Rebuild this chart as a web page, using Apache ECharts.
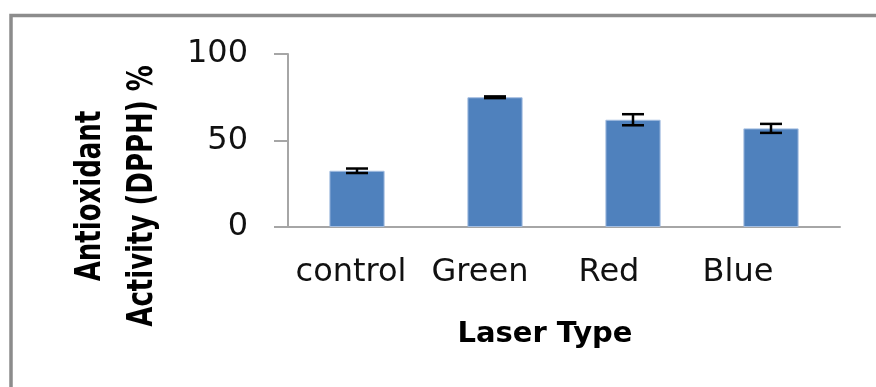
<!DOCTYPE html>
<html>
<head>
<meta charset="utf-8">
<script src="https://cdn.jsdelivr.net/npm/echarts@6/dist/echarts.min.js"></script>
<style>
	html, body { margin: 0; padding: 0; background: #fff; }
	#chart { width: 876px; height: 387px; }
</style>
</head>
<body>
<div id="chart"></div>
<script>
	// 数据
	var laserTypes = ['control', 'Green', 'Red', 'Blue'];
	var activity = [32.5, 75, 62, 57];
	var activityErr = [1.3, 0.5, 3.2, 2.6];
	var yTicks = [0, 50, 100];

	// label offsets to the left (the source labels sit a bit left of the bars)
	var labelShift = [6, 15, 24, 33];

	var errData = [];
	for (var i = 0; i < laserTypes.length; i++) {
		errData.push([i, activity[i] - activityErr[i], activity[i] + activityErr[i]]);
	}

	var rich = {};
	for (var j = 0; j < laserTypes.length; j++) {
		rich['c' + j] = {
			fontFamily: 'DejaVu Sans',
			fontSize: 32,
			color: '#111',
			padding: [0, labelShift[j] * 2, 0, 0]
		};
	}

	function renderErr(params, api) {
		var x = api.value(0);
		var lo = api.coord([x, api.value(1)]);
		var hi = api.coord([x, api.value(2)]);
		var half = 11;
		var st = { stroke: '#000', lineWidth: 2.5 };
		return {
			type: 'group',
			children: [
				{ type: 'line', shape: { x1: hi[0], y1: hi[1], x2: lo[0], y2: lo[1] }, style: st },
				{ type: 'line', shape: { x1: hi[0] - half, y1: hi[1], x2: hi[0] + half, y2: hi[1] }, style: st },
				{ type: 'line', shape: { x1: lo[0] - half, y1: lo[1], x2: lo[0] + half, y2: lo[1] }, style: st }
			]
		};
	}

	var option = {
		animation: false,
		backgroundColor: '#fff',
		grid: { left: 288, right: 36, top: 54, bottom: 160 },
		xAxis: {
			type: 'category',
			data: laserTypes,
			axisLine: { lineStyle: { color: '#a6a6a6', width: 2 } },
			axisTick: { length: 13, lineStyle: { color: '#a6a6a6', width: 2 } },
			axisLabel: {
				margin: 30,
				formatter: function(v, idx) {
					return '{c' + idx + '|' + v + '}';
				},
				rich: rich
			}
		},
		yAxis: {
			type: 'value',
			min: yTicks[0],
			max: yTicks[yTicks.length - 1],
			interval: yTicks[1] - yTicks[0],
			splitLine: { show: false },
			axisLine: { show: true, lineStyle: { color: '#a6a6a6', width: 2 } },
			axisTick: { show: true, length: 14, lineStyle: { color: '#a6a6a6', width: 2 } },
			axisLabel: {
				margin: 40,
				fontFamily: 'DejaVu Sans',
				fontSize: 32,
				color: '#111'
			}
		},
		graphic: [
			{
				type: 'rect',
				shape: { x: 11, y: 15.5, width: 900, height: 400 },
				style: { fill: 'none', stroke: '#8c8c8c', lineWidth: 3.5 },
				silent: true
			},
			{
				// 纵轴标题 (source picture is stretched sideways, so glyphs are widened)
				type: 'text',
				x: 117,
				y: 196,
				rotation: Math.PI / 2,
				scaleY: 1.35,
				style: {
					text: 'Antioxidant\nActivity (DPPH) %',
					fontFamily: 'DejaVu Sans',
					fontWeight: 'bold',
					fontSize: 26,
					lineHeight: 39,
					fill: '#000',
					align: 'center',
					verticalAlign: 'middle'
				}
			},
			{
				type: 'text',
				x: 545,
				y: 334,
				style: {
					text: 'Laser Type',
					fontFamily: 'DejaVu Sans',
					fontWeight: 'bold',
					fontSize: 29,
					fill: '#000',
					align: 'center',
					verticalAlign: 'middle'
				}
			}
		],
		series: [
			{
				type: 'bar',
				data: activity,
				barWidth: '40%',
				itemStyle: { color: '#4f81bd', borderColor: '#a3bde0', borderWidth: 1 }
			},
			{
				type: 'custom',
				data: errData,
				renderItem: renderErr,
				z: 5
			}
		]
	};

	echarts.init(document.getElementById('chart')).setOption(option);
</script>
</body>
</html>
